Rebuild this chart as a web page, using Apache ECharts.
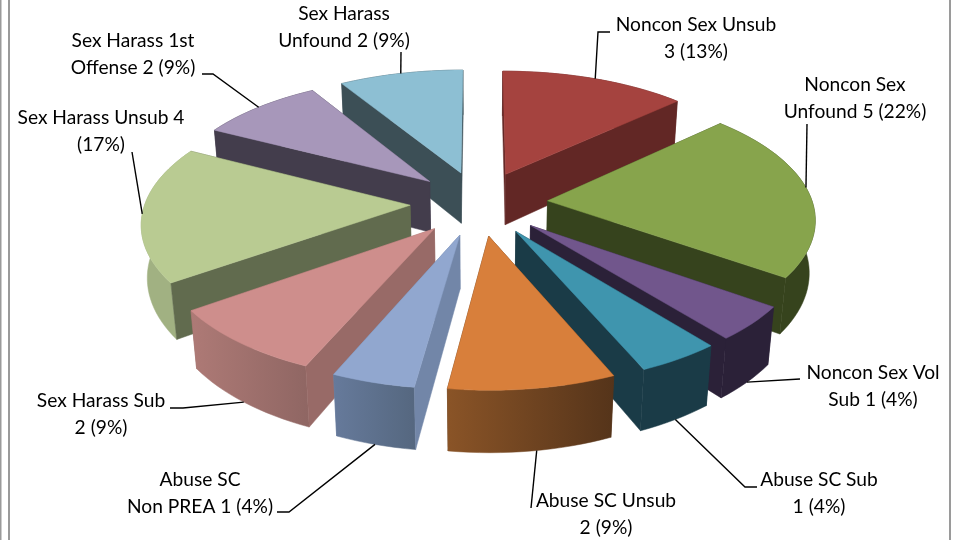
<!DOCTYPE html>
<html>
<head>
<meta charset="utf-8">
<script src="https://cdn.jsdelivr.net/npm/echarts@6/dist/echarts.min.js"></script>
<style>
  html, body { margin: 0; padding: 0; background: #fff; }
  #main { width: 963px; height: 540px; }
</style>
</head>
<body>
<div id="main"></div>
<script>
const categories = [
  'Noncon Sex Unsub', 'Noncon Sex Unfound', 'Noncon Sex Vol Sub', 'Abuse SC Sub', 'Abuse SC Unsub',
  'Abuse SC Non PREA', 'Sex Harass Sub', 'Sex Harass Unsub', 'Sex Harass 1st Offense', 'Sex Harass Unfound'
];
const values = [3, 5, 1, 1, 2, 1, 2, 4, 2, 2];
const labels = [
  'Noncon Sex Unsub\n3 (13%)', 'Noncon Sex\nUnfound 5 (22%)', 'Noncon Sex Vol\nSub 1 (4%)', 'Abuse SC Sub\n1 (4%)',
  'Abuse SC Unsub\n2 (9%)', 'Abuse SC\nNon PREA 1 (4%)', 'Sex Harass Sub\n2 (9%)', 'Sex Harass Unsub 4\n(17%)',
  'Sex Harass 1st\nOffense 2 (9%)', 'Sex Harass\nUnfound 2 (9%)'
];

// slice colours: top face, cut face, outer wall left -> right
const topColors = ['#A5433F', '#87A44C', '#71568C', '#3F95AE', '#D87F3B', '#91A7CF', '#CE8E8C', '#B9CB92', '#A797BA', '#8DBFD3'];
const cutColors = ['#622725', '#36431D', '#2B2138', '#1A3B47', '#55341A', '#7286A8', '#986A67', '#616B4E', '#433D4C', '#3C4F56'];
const wallColors = [
  ['#622725', '#622725'], ['#36431D', '#36431D'], ['#2B2138', '#2B2138'], ['#1A3B47', '#1A3B47'], ['#8A5427', '#55341A'],
  ['#667A9B', '#55677F'], ['#AE7A76', '#8F6663'], ['#A1B182', '#A1B182'], ['#433D4C', '#433D4C'], ['#3C4F56', '#3C4F56']
];

// label placement: text centre x, first line middle y, leader elbows, leader leaves bottom rim (1) or top rim (0)
const labelX = [696, 855, 873, 819, 606, 200, 101, 101, 133, 344];
const labelY = [25, 85, 373, 480, 501, 480, 401, 118, 41, 14];
const leaderElbows = [
  [[598, 32], [610, 32]], [[807, 124]], [[800, 379]], [[745, 487], [757, 487]], [[531, 508]],
  [[289, 512], [277, 512]], [[183, 408], [170, 408]], [[132, 152]], [[213, 74], [202, 74]], [[401, 52]]
];
const leaderRim = [0, 0, 1, 1, 1, 1, 1, 0, 0, 0];
// where along the slice's arc the leader starts
const leaderFraction = [0.5, 0.47, 0.5, 0.5, 0.47, 0.5, 0.5, 0.5, 0.5, 0.5];

// projection of the tilted pie
const CX = 479, CY = 203, RX = 265, RY = 124, DEPTH = 52;
const PERSPECTIVE_X = 0.125, PERSPECTIVE_Y = 0.133, DEPTH_SHRINK = 0.018, EXPLODE = 0.26;
const TEXT_FONT = '19.2px Lato, "Open Sans", sans-serif';

const total = values.reduce((a, b) => a + b, 0);

function project(x, y, z) {
  const sx = 1 / (1 - PERSPECTIVE_X * y + DEPTH_SHRINK * z);
  const sy = 1 / (1 - PERSPECTIVE_Y * y);
  return [CX + RX * x * sx, CY + RY * y * sy + DEPTH * z * sy];
}

function sliceAngles(i) {
  let before = 0;
  for (let k = 0; k < i; k++) before += values[k];
  return [before / total * 2 * Math.PI, (before + values[i]) / total * 2 * Math.PI];
}

function rimPoint(i, angle, r, z) {
  const a = sliceAngles(i);
  const mid = (a[0] + a[1]) / 2;
  return project(
    EXPLODE * Math.sin(mid) + r * Math.sin(angle),
    -EXPLODE * Math.cos(mid) + -r * Math.cos(angle),
    z
  );
}

// paint order: far slices first
const paintOrder = values.map((v, i) => i).sort((p, q) => {
  const a = sliceAngles(p), b = sliceAngles(q);
  return -Math.cos((a[0] + a[1]) / 2) - -Math.cos((b[0] + b[1]) / 2);
});

function renderSlice(params, api) {
  const i = params.dataIndex;
  const a = sliceAngles(i);
  const base = paintOrder.indexOf(i) * 10 + 10;

  const arc = (z) => {
    const pts = [];
    const steps = Math.ceil((a[1] - a[0]) / (Math.PI / 90));
    for (let k = 0; k <= steps; k++) pts.push(rimPoint(i, a[0] + (a[1] - a[0]) * k / steps, 1, z));
    return pts;
  };
  const apex = (z) => rimPoint(i, 0, 0, z);
  const cutFace = (angle) => [apex(0), rimPoint(i, angle, 1, 0), rimPoint(i, angle, 1, 1), apex(1)];

  const topArc = arc(0);
  const wall = topArc.concat(arc(1).reverse());
  const wallFill = new echarts.graphic.LinearGradient(0, 0, 1, 0, [
    { offset: 0, color: wallColors[i][0] },
    { offset: 1, color: wallColors[i][1] }
  ]);

  // a cut face looks towards the viewer when its normal points down the screen
  const firstVisible = -Math.sin(a[0]) > 0;
  const secondVisible = Math.sin(a[1]) > 0;
  const poly = (points, fill, z2) => ({
    type: 'polygon',
    z2: z2,
    shape: { points: points },
    style: { fill: fill, stroke: fill, lineWidth: 0.5 }
  });

  const leaderAngle = a[0] + (a[1] - a[0]) * leaderFraction[i];
  const leader = [rimPoint(i, leaderAngle, 1, leaderRim[i])].concat(leaderElbows[i]);

  return {
    type: 'group',
    children: [
      poly(cutFace(a[0]), cutColors[i], base + (firstVisible ? 2 : 0)),
      poly(cutFace(a[1]), cutColors[i], base + (secondVisible ? 2 : 0)),
      poly(wall, wallFill, base + 1),
      poly([apex(0)].concat(topArc), topColors[i], base + 3),
      {
        type: 'polyline',
        z2: 500,
        shape: { points: leader },
        style: { fill: 'none', stroke: '#000', lineWidth: 1.4 }
      },
      {
        type: 'text',
        z2: 501,
        style: {
          text: labels[i],
          x: labelX[i],
          y: labelY[i] - 13,
          textAlign: 'center',
          textVerticalAlign: 'top',
          font: TEXT_FONT,
          lineHeight: 26.5,
          fill: '#000'
        }
      }
    ]
  };
}

const myChart = echarts.init(document.getElementById('main'), null, { renderer: 'canvas' });
const option = {
  backgroundColor: '#fff',
  animation: false,
  graphic: [
    { type: 'rect', shape: { x: 0, y: 0, width: 1.5, height: 540 }, style: { fill: '#9a9a9a' }, silent: true },
    { type: 'rect', shape: { x: 8, y: 0, width: 2, height: 540 }, style: { fill: '#9a9a9a' }, silent: true },
    { type: 'rect', shape: { x: 949, y: 0, width: 2, height: 540 }, style: { fill: '#9a9a9a' }, silent: true }
  ],
  series: [
    {
      type: 'custom',
      coordinateSystem: 'none',
      silent: true,
      renderItem: renderSlice,
      data: categories.map((name, i) => ({ name: name, value: values[i] }))
    }
  ]
};
myChart.setOption(option);
</script>
</body>
</html>
